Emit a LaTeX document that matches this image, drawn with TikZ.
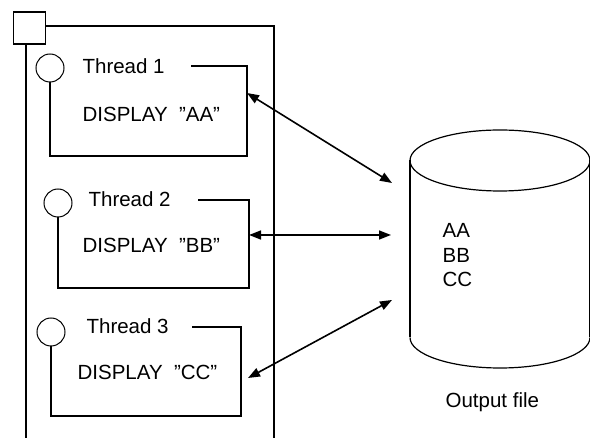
\documentclass[tikz,border=0pt]{standalone}
\usepackage{fontspec}
\setmainfont{Liberation Sans}
\usetikzlibrary{arrows.meta}
\begin{document}
\begin{tikzpicture}[x=1pt,y=-1pt,line width=1.2pt,
  txt/.style={font=\fontsize{20.5}{24.5}\selectfont,inner sep=0pt,anchor=base west},
  thr/.style={circle,draw,line width=1pt,minimum size=28pt,inner sep=0pt},
  dbl/.style={line width=1.6pt,{Triangle[length=12pt,width=9pt]}-{Triangle[length=12pt,width=9pt]}}]
\useasboundingbox (0,0) rectangle (590,438);
% process
\node[draw,minimum size=32pt,inner sep=0pt] (proc) at (29.5,28) {};
\draw (proc.south -| 26,0) -- (26,440);
\draw (proc.east |- 0,26) -- (274,26) -- (274,440);
% threads
\node[thr] (c1) at (50,68) {};
\node[txt] (t1) at (82,74) {Thread 1};
\node[txt] (d1) at (82,122) {DISPLAY\ \ "AA"};
\draw (191,66) -| (247,156) -| (c1.south);
\node[thr] (c2) at (58,203) {};
\node[txt] (t2) at (88,207) {Thread 2};
\node[txt] (d2) at (82,253) {DISPLAY\ \ "BB"};
\draw (198,200) -| (249,288) -| (c2.south);
\node[thr] (c3) at (51,332) {};
\node[txt] (t3) at (86,334) {Thread 3};
\node[txt] (d3) at (77,380) {DISPLAY\ \ "CC"};
\draw (192,327) -| (241,416) -| (c3.south);
% output file
\draw (410,160.5) -- (410,337.5);
\draw (590,160.5) -- (590,337.5);
\draw (500,160.5) ellipse [x radius=90pt,y radius=30.5pt];
\draw (410,337.5) arc [start angle=180,end angle=360,x radius=90pt,y radius=30.5pt];
\node[txt,align=left,anchor=north west] (data) at (442,223) {AA\\BB\\CC};
\node[txt] (out) at (445,408) {Output file};
% connectors
\coordinate (a1) at (247,93);
\coordinate (b1) at (392,183);
\coordinate (a2) at (249,235);
\coordinate (b2) at (391,235);
\coordinate (a3) at (248,378);
\coordinate (b3) at (392,300);
\draw[dbl] (a1) -- (b1);
\draw[dbl] (a2) -- (b2);
\draw[dbl] (a3) -- (b3);
\end{tikzpicture}
\end{document}
